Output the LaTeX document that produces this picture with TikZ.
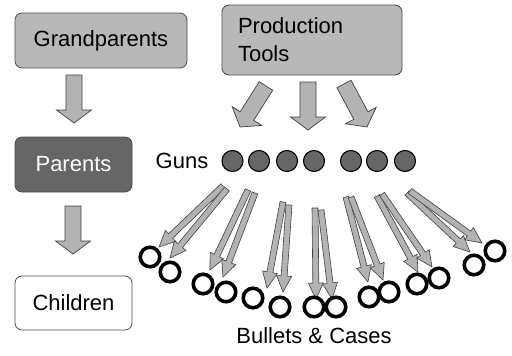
\documentclass[tikz,border=0pt]{standalone}
\usepackage{fontspec}
\setmainfont{Liberation Sans}
\usetikzlibrary{calc}
\definecolor{boxgray}{HTML}{B8B8B8}
\definecolor{darkbox}{HTML}{666666}
\definecolor{arrgray}{HTML}{B3B3B3}
\newcommand\fatarrow[6]{%
  \coordinate (fa-c) at ($(#3)!#6!(#2)$);
  \draw[#1] ($(#2)!#4!90:(#3)$) -- ($(fa-c)!#4!90:(#3)$) -- ($(fa-c)!#5!90:(#3)$) -- (#3)
    -- ($(fa-c)!#5!-90:(#3)$) -- ($(fa-c)!#4!-90:(#3)$) -- ($(#2)!#4!-90:(#3)$) -- cycle;}
\tikzset{
  txt/.style={font=\fontsize{22}{28}\selectfont},
  box/.style={txt, draw=black!70, line width=0.8pt, rounded corners=7pt, inner sep=0pt},
  bigarrowstyle/.style={fill=arrgray, draw=black!75, line width=0.7pt, line join=miter},
  thinarrowstyle/.style={fill=arrgray, draw=black!75, line width=0.6pt, line join=miter},
  gun/.style={circle, fill=darkbox, draw=black, line width=1.1pt, minimum size=21pt, inner sep=0pt},
  bullet/.style={circle, draw=black, line width=3.6pt, minimum size=19.5pt, inner sep=0pt},
}
\begin{document}
\begin{tikzpicture}[x=1pt, y=-1pt]
\useasboundingbox (0,0) rectangle (512,356);
% boxes
\node[box, fill=boxgray, minimum width=172pt, minimum height=55pt] (gp) at (101,40.5) {Grandparents};
\node[box, fill=darkbox, text=white, minimum width=117pt, minimum height=55pt] (par) at (73.5,164.5) {Parents};
\node[box, fill=white, minimum width=117pt, minimum height=54pt] (ch) at (73.5,303) {Children};
\node[box, fill=boxgray, minimum width=180pt, minimum height=70pt, text width=148pt, inner xsep=16pt, align=left] (pt) at (312,40) {Production\\Tools};
% labels
\node[txt] (guns) at (182,161) {Guns};
\node[txt] (bc) at (314,336) {Bullets \& Cases};
% big arrows
\coordinate (a1s) at (74,75);  \coordinate (a1e) at (74,123);
\coordinate (a2s) at (73,206); \coordinate (a2e) at (73,254);
\coordinate (a3s) at (266,86); \coordinate (a3e) at (240,127);
\coordinate (a4s) at (308,82); \coordinate (a4e) at (308,130);
\coordinate (a5s) at (344,84); \coordinate (a5e) at (367,127);
\foreach \i in {1,...,5}{\fatarrow{bigarrowstyle}{a\i s}{a\i e}{8pt}{17.5pt}{13pt}}
% guns
\foreach \x [count=\i] in {232.5,259,287,314,351,377,405}
  \node[gun] (g\i) at (\x,161) {};
% thin arrows
\foreach \sx/\sy/\ex/\ey [count=\i] in {
  223/186/159/247, 227/189/170/258,
  248/190/210/270, 255/193/223/277,
  283/202/267/288, 289/205/283/292,
  315/208/316/299, 321/210/332/299,
  346/197/368/282, 351/197/383/280,
  377/196/418/272, 382/194/432/267,
  407/193/470/252, 410/191/482/243}{
  \coordinate (t\i s) at (\sx,\sy);
  \coordinate (t\i e) at (\ex,\ey);
  \fatarrow{thinarrowstyle}{t\i s}{t\i e}{3pt}{7.5pt}{16pt}
}
% bullets & cases
\foreach \x/\y [count=\i] in {150/257,170/272, 203/284,226/292, 253/298,280/307,
  314/307,336/307, 369/297,389/292, 417/284,439/278, 474/265,495/251}
  \node[bullet] (b\i) at (\x,\y) {};
\end{tikzpicture}
\end{document}
